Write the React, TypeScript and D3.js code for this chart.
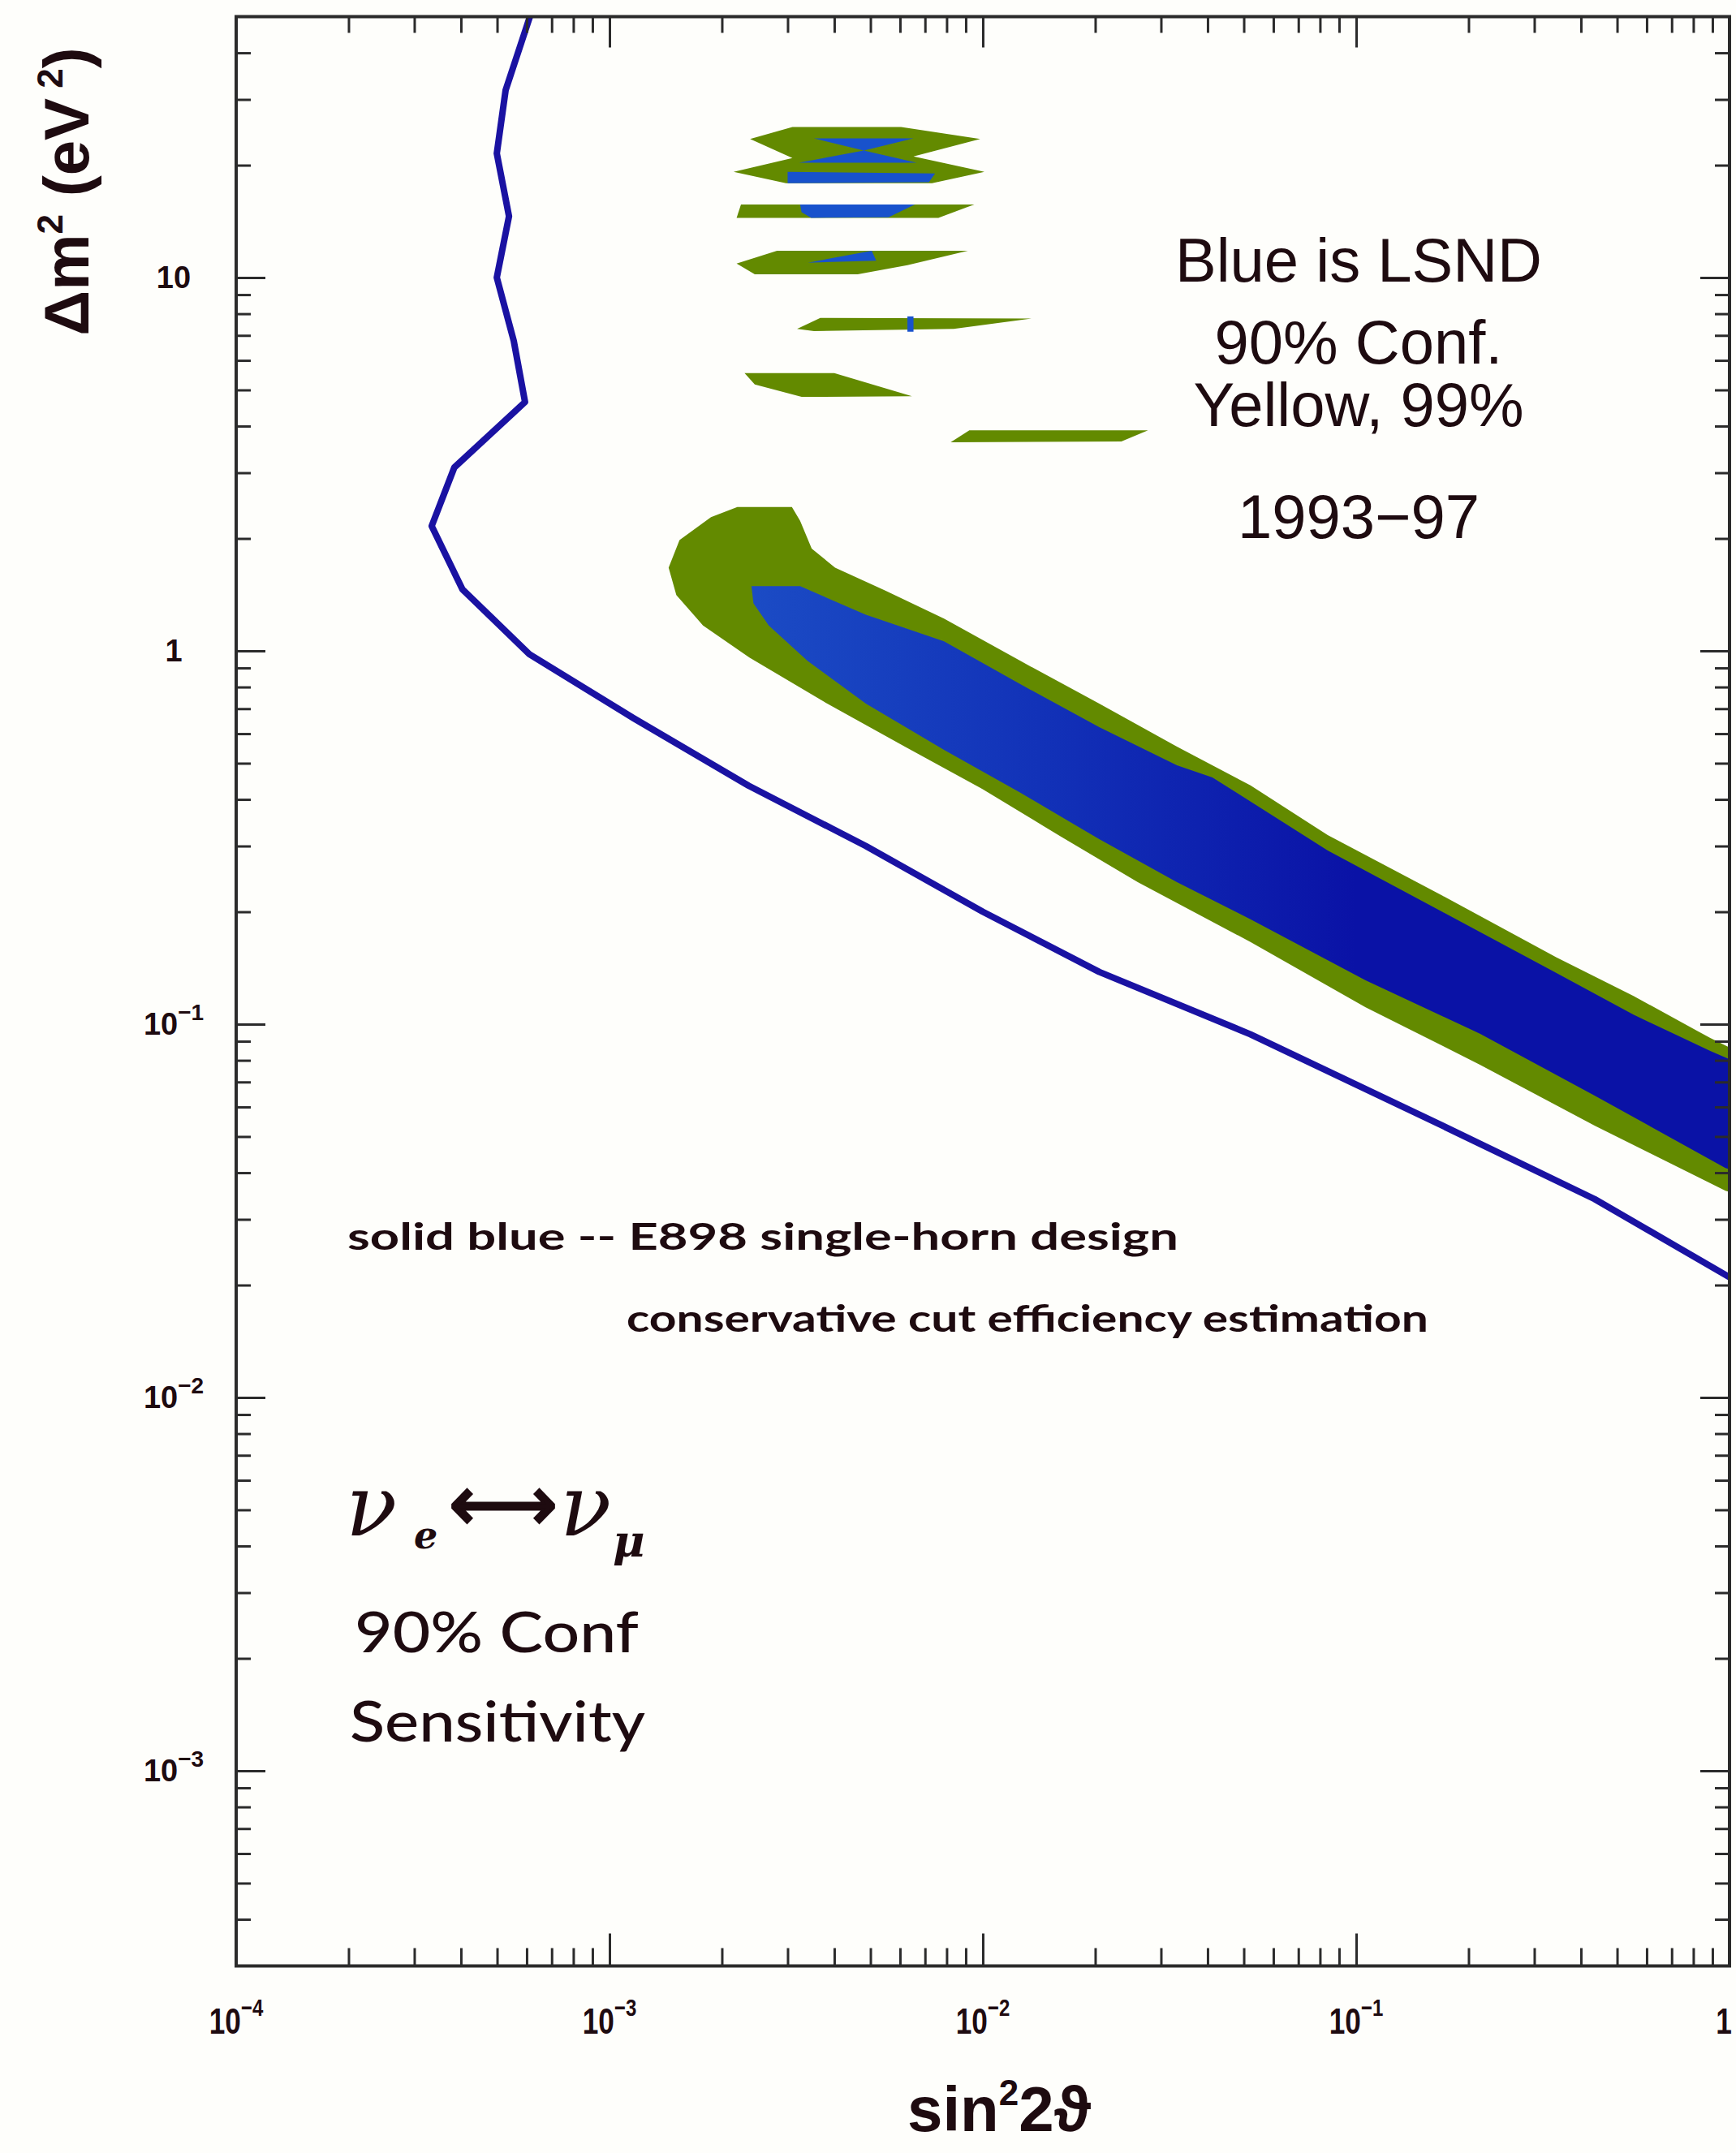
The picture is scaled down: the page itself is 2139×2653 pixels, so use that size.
import { useRef, useEffect } from 'react';
import * as d3 from 'd3';

const W = 2139;
const H = 2653;

// axis decades (sin^2 2θ and Δm^2)
const xMajor = [1e-4, 1e-3, 1e-2, 1e-1, 1];
const yMajor = [1e-3, 1e-2, 1e-1, 1, 10];

// E898 single-horn 90% sensitivity curve
const sensX = [6.12e-4, 5.27e-4, 4.99e-4, 5.38e-4, 4.99e-4, 5.54e-4, 5.94e-4, 3.84e-4, 3.34e-4, 4.04e-4, 6.1e-4, 1.16e-3, 2.36e-3, 4.86e-3, 1.0e-2, 2.05e-2, 5.2e-2, 0.17, 0.435, 1.0];
const sensY = [50, 31.8, 21.5, 14.6, 10, 6.77, 4.64, 3.1, 2.16, 1.46, 0.98, 0.66, 0.435, 0.3, 0.2, 0.138, 0.094, 0.0535, 0.034, 0.021];

// LSND main band, 99% (green)
const lsnd99X = [2.2e-3, 3.08e-3, 3.24e-3, 3.48e-3, 4.02e-3, 5.48e-3, 7.87e-3, 1.26e-2, 2.05e-2, 3.31e-2, 5.21e-2, 8.39e-2, 0.17, 0.344, 0.553, 0.888, 1.16, 1.16, 0.975, 0.435, 0.215, 0.106, 5.21e-2, 2.6e-2, 1.61e-2, 9.95e-3, 6.18e-3, 3.83e-3, 2.37e-3, 1.78e-3, 1.51e-3, 1.44e-3, 1.54e-3, 1.87e-3];
const lsnd99Y = [2.43, 2.43, 2.23, 1.88, 1.67, 1.45, 1.22, 0.94, 0.722, 0.554, 0.436, 0.321, 0.221, 0.151, 0.119, 0.0918, 0.0806, 0.0339, 0.0358, 0.0535, 0.0778, 0.111, 0.166, 0.24, 0.319, 0.427, 0.554, 0.722, 0.96, 1.17, 1.41, 1.67, 1.98, 2.28];

// LSND main band, 90% (blue)
const lsnd90X = [2.4e-3, 3.24e-3, 4.86e-3, 7.87e-3, 1.26e-2, 2.05e-2, 3.31e-2, 4.12e-2, 8.39e-2, 0.17, 0.344, 0.553, 0.888, 1.16, 1.16, 0.975, 0.435, 0.215, 0.106, 5.21e-2, 3.31e-2, 2.05e-2, 1.26e-2, 7.87e-3, 4.86e-3, 3.39e-3, 2.67e-3, 2.43e-3];
const lsnd90Y = [1.49, 1.49, 1.25, 1.06, 0.814, 0.625, 0.494, 0.458, 0.292, 0.2, 0.137, 0.106, 0.0848, 0.0755, 0.039, 0.0412, 0.0644, 0.0942, 0.131, 0.191, 0.24, 0.313, 0.417, 0.543, 0.722, 0.94, 1.17, 1.34];

// high Δm^2 islands, 99%
const isl1X = [2.38e-3, 3.09e-3, 6.04e-3, 9.84e-3, 6.52e-3, 1.01e-2, 7.31e-3, 2.97e-3, 2.15e-3, 3.09e-3];
const isl1Y = [23.5, 25.3, 25.3, 23.5, 21.1, 19.2, 17.9, 17.9, 19.2, 20.9];
const isl2X = [2.25e-3, 9.49e-3, 7.6e-3, 2.19e-3];
const isl2Y = [15.7, 15.7, 14.45, 14.45];
const isl3X = [2.19e-3, 2.81e-3, 9.12e-3, 6.28e-3, 4.62e-3, 2.45e-3];
const isl3Y = [10.9, 11.8, 11.8, 10.8, 10.2, 10.2];
const isl4X = [3.18e-3, 3.67e-3, 1.35e-2, 8.36e-3, 3.53e-3];
const isl4Y = [7.29, 7.8, 7.77, 7.29, 7.19];
const isl5X = [2.3e-3, 4.0e-3, 6.46e-3, 3.27e-3, 2.45e-3];
const isl5Y = [5.55, 5.55, 4.81, 4.79, 5.17];
const isl6X = [9.2e-3, 2.77e-2, 2.35e-2, 8.2e-3];
const isl6Y = [3.9, 3.9, 3.64, 3.62];

// high Δm^2 islands, 90%
const blue1X = [3.53e-3, 6.52e-3, 4.8e-3, 6.65e-3, 3.22e-3, 4.8e-3];
const blue1Y = [23.6, 23.6, 21.9, 20.3, 20.3, 21.9];
const blue2X = [3.0e-3, 7.45e-3, 7.17e-3, 3.0e-3];
const blue2Y = [19.2, 19.0, 18.0, 17.9];
const blue3X = [3.24e-3, 6.58e-3, 5.59e-3, 3.47e-3, 3.27e-3];
const blue3Y = [15.7, 15.7, 14.5, 14.45, 14.96];
const blue4X = [3.4e-3, 5.04e-3, 5.18e-3];
const blue4Y = [10.96, 11.8, 11.1];
const blue5X = [6.28e-3, 6.52e-3, 6.52e-3, 6.28e-3];
const blue5Y = [7.87, 7.87, 7.16, 7.16];

const GREEN = '#638a00';
const ISLAND_BLUE = '#1852cc';
const LINE_BLUE = '#1a12a2';
const INK = '#1e0b10';

export default function App() {
    const ref = useRef<SVGSVGElement | null>(null);

    useEffect(() => {
        if (!ref.current) return;
        document.body.style.margin = '0';
        const svg = d3.select(ref.current);
        svg.selectAll('*').remove();

        const x = d3.scaleLog().domain([1e-4, 1]).range([291, 2131]);
        const y = d3.scaleLog().domain([3e-4, 50]).range([2422.5, 20.5]);
        const [x0, x1] = x.range();
        const [y0, y1] = y.range();

        svg.append('rect').attr('width', W).attr('height', H).attr('fill', '#fefefb');

        const defs = svg.append('defs');
        defs.append('clipPath').attr('id', 'plot')
            .append('rect').attr('x', x0).attr('y', y1).attr('width', x1 - x0).attr('height', y0 - y1);
        const grad = defs.append('linearGradient').attr('id', 'lsndBlue')
            .attr('gradientUnits', 'userSpaceOnUse')
            .attr('x1', x(2e-3)).attr('x2', x(0.1)).attr('y1', 0).attr('y2', 0);
        grad.append('stop').attr('offset', 0).attr('stop-color', '#1c4ec6');
        grad.append('stop').attr('offset', 0.5).attr('stop-color', '#1232b8');
        grad.append('stop').attr('offset', 1).attr('stop-color', '#0a12a6');

        const poly = (xs: number[], ys: number[]) =>
            d3.line<number>()
                .x((i) => x(xs[i]))
                .y((i) => y(ys[i]))
                .curve(d3.curveLinearClosed)(d3.range(xs.length));

        const plot = svg.append('g').attr('clip-path', 'url(#plot)');

        plot.append('path').attr('d', poly(lsnd99X, lsnd99Y)).attr('fill', GREEN);
        plot.append('path').attr('d', poly(lsnd90X, lsnd90Y)).attr('fill', 'url(#lsndBlue)');

        [[isl1X, isl1Y], [isl2X, isl2Y], [isl3X, isl3Y], [isl4X, isl4Y], [isl5X, isl5Y], [isl6X, isl6Y]]
            .forEach(([xs, ys]) => {
                plot.append('path').attr('d', poly(xs, ys)).attr('fill', GREEN);
            });
        [[blue1X, blue1Y], [blue2X, blue2Y], [blue3X, blue3Y], [blue4X, blue4Y], [blue5X, blue5Y]]
            .forEach(([xs, ys]) => {
                plot.append('path').attr('d', poly(xs, ys)).attr('fill', ISLAND_BLUE);
            });

        const sens = d3.line<number>()
            .x((i) => x(sensX[i]))
            .y((i) => y(sensY[i]));
        plot.append('path')
            .attr('d', sens(d3.range(sensX.length)))
            .attr('fill', 'none')
            .attr('stroke', LINE_BLUE)
            .attr('stroke-width', 8)
            .attr('stroke-linejoin', 'round');

        // inward ticks on all four sides
        const isMajor = (v: number) => Math.abs(Math.log10(v) - Math.round(Math.log10(v))) < 1e-6;
        const xMinor = x.ticks().filter((v) => !isMajor(v));
        const yMinor = y.ticks().filter((v) => !isMajor(v) && v > 3.01e-4 && v < 49);

        const ticks = (axis: d3.Axis<d3.NumberValue>, tr: string) => {
            const g = svg.append('g').attr('transform', tr).call(axis);
            g.select('.domain').remove();
            g.selectAll('text').remove();
            g.selectAll('line').attr('stroke', '#2b2b2b').attr('stroke-width', 3);
        };
        ticks(d3.axisBottom(x).tickValues(xMajor).tickSize(-40).tickSizeOuter(0), `translate(0,${y0})`);
        ticks(d3.axisBottom(x).tickValues(xMinor).tickSize(-22).tickSizeOuter(0), `translate(0,${y0})`);
        ticks(d3.axisTop(x).tickValues(xMajor).tickSize(-38).tickSizeOuter(0), `translate(0,${y1})`);
        ticks(d3.axisTop(x).tickValues(xMinor).tickSize(-20).tickSizeOuter(0), `translate(0,${y1})`);
        ticks(d3.axisLeft(y).tickValues(yMajor).tickSize(-36).tickSizeOuter(0), `translate(${x0},0)`);
        ticks(d3.axisLeft(y).tickValues(yMinor).tickSize(-18).tickSizeOuter(0), `translate(${x0},0)`);
        ticks(d3.axisRight(y).tickValues(yMajor).tickSize(-36).tickSizeOuter(0), `translate(${x1},0)`);
        ticks(d3.axisRight(y).tickValues(yMinor).tickSize(-18).tickSizeOuter(0), `translate(${x1},0)`);

        svg.append('rect')
            .attr('x', x0).attr('y', y1).attr('width', x1 - x0).attr('height', y0 - y1)
            .attr('fill', 'none').attr('stroke', '#2b2b2b').attr('stroke-width', 4);

        // tick labels
        const expLabel = (sel: d3.Selection<SVGTextElement, number, any, any>, supSize: number, rise: number) => {
            sel.each(function (v) {
                const e = Math.round(Math.log10(v));
                const t = d3.select(this);
                if (e === 0) { t.text('1'); return; }
                if (e === 1) { t.text('10'); return; }
                t.append('tspan').text('10');
                t.append('tspan').attr('dy', -rise).attr('font-size', supSize).text('\u2212' + Math.abs(e));
            });
        };
        svg.append('g').selectAll('text').data(xMajor).join('text')
            .attr('transform', (d) => `translate(${Math.min(x(d), 2124)},2506) scale(0.8,1)`)
            .attr('text-anchor', 'middle')
            .attr('font-family', '"Liberation Sans", Arial, sans-serif')
            .attr('font-weight', 700)
            .attr('font-size', 44)
            .attr('fill', INK)
            .call(expLabel, 30, 22);
        svg.append('g').selectAll('text').data(yMajor).join('text')
            .attr('x', 214)
            .attr('y', (d) => y(d) + 13)
            .attr('text-anchor', 'middle')
            .attr('font-family', '"Liberation Sans", Arial, sans-serif')
            .attr('font-weight', 700)
            .attr('font-size', 38)
            .attr('fill', INK)
            .call(expLabel, 28, 18);

        // axis titles
        const yt = svg.append('text')
            .attr('transform', 'translate(109,236) rotate(-90)')
            .attr('text-anchor', 'middle')
            .attr('font-family', '"Liberation Sans", Arial, sans-serif')
            .attr('font-weight', 700)
            .attr('font-size', 78)
            .attr('fill', INK);
        yt.append('tspan').text('\u0394m');
        yt.append('tspan').attr('dy', -32).attr('font-size', 44).text('2');
        yt.append('tspan').attr('dy', 32).text(' (eV');
        yt.append('tspan').attr('dy', -32).attr('font-size', 44).text(' 2');
        yt.append('tspan').attr('dy', 32).text(')');

        const xt = svg.append('text')
            .attr('x', 1231).attr('y', 2626)
            .attr('text-anchor', 'middle')
            .attr('font-family', '"Liberation Sans Narrow", "Liberation Sans", Arial, sans-serif')
            .attr('font-weight', 700)
            .attr('font-size', 78)
            .attr('fill', INK);
        xt.append('tspan').text('sin');
        xt.append('tspan').attr('dy', -32).attr('font-size', 44).text('2');
        xt.append('tspan').attr('dy', 32).text('2\u03d1');

        // LSND legend text
        const legend = ['Blue is LSND', '90% Conf.', 'Yellow, 99%', '1993\u221297'];
        const legendY = [347, 448, 525, 663];
        svg.append('g').selectAll('text').data(legend).join('text')
            .attr('x', 1674)
            .attr('y', (_, i) => legendY[i])
            .attr('text-anchor', 'middle')
            .attr('font-family', '"Liberation Sans", Arial, sans-serif')
            .attr('font-size', 76)
            .attr('fill', INK)
            .text((d) => d);

        const note = (txt: string, tx: number, ty: number, size: number, len: number, weight: number) =>
            svg.append('text')
                .attr('x', tx).attr('y', ty)
                .attr('font-family', 'Lato, "Open Sans", sans-serif')
                .attr('font-weight', weight)
                .attr('font-size', size)
                .attr('textLength', len)
                .attr('lengthAdjust', 'spacingAndGlyphs')
                .attr('fill', INK)
                .text(txt);
        note('solid blue -- E898 single-horn design', 428, 1540, 46, 1024, 700);
        note('conservative cut efficiency estimation', 772, 1641, 46, 988, 700);
        note('90% Conf', 437, 2036, 70, 350, 500);
        note('Sensitivity', 431, 2146, 70, 364, 500);

        // ν_e <-> ν_μ
        const serif = '"DejaVu Serif", "Liberation Serif", serif';
        svg.append('text').attr('x', 426).attr('y', 1892)
            .attr('font-family', serif).attr('font-style', 'italic')
            .attr('font-size', 104).attr('fill', INK).text('\u03bd');
        svg.append('text').attr('x', 510).attr('y', 1908)
            .attr('font-family', serif).attr('font-style', 'italic').attr('font-weight', 700)
            .attr('font-size', 46).attr('fill', INK).text('e');
        svg.append('text').attr('x', 553).attr('y', 1886)
            .attr('font-family', '"DejaVu Sans", sans-serif').attr('font-size', 96)
            .attr('textLength', 134).attr('lengthAdjust', 'spacingAndGlyphs')
            .attr('stroke', INK).attr('stroke-width', 3)
            .attr('fill', INK).text('\u27f7');
        svg.append('text').attr('x', 690).attr('y', 1892)
            .attr('font-family', serif).attr('font-style', 'italic')
            .attr('font-size', 104).attr('fill', INK).text('\u03bd');
        svg.append('text').attr('x', 755).attr('y', 1918)
            .attr('font-family', serif).attr('font-style', 'italic').attr('font-weight', 700)
            .attr('font-size', 54).attr('fill', INK).text('\u03bc');
    }, []);

    return <svg ref={ref} width={W} height={H} style={{ display: 'block' }} />;
}
